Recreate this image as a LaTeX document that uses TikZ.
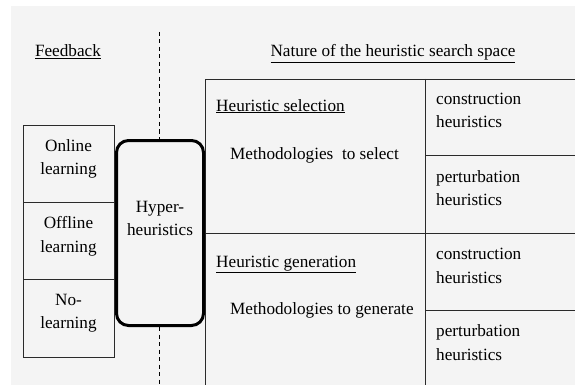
\documentclass[tikz,border=0pt]{standalone}
\usepackage{fontspec}
\setmainfont{Liberation Serif}
\definecolor{bgc}{HTML}{F4F4F4}
\definecolor{linec}{HTML}{2A2A2A}
\begin{document}
\begin{tikzpicture}[x=1pt,y=-1pt,
  txt/.style={font=\fontsize{17.2}{24}\selectfont, inner sep=0pt, anchor=base west},
  ctxt/.style={font=\fontsize{17.2}{24}\selectfont, inner sep=0pt, anchor=base},
  cell/.style={draw=linec, line width=0.9pt},
  hyperbox/.style={draw=black, line width=3pt, rounded corners=12pt, fill=bgc, minimum width=87pt, minimum height=185pt, inner sep=0pt},
  sep/.style={draw=black, line width=0.9pt, dash pattern=on 4pt off 3.5pt}]
\useasboundingbox (0,0) rectangle (575,385);
\fill[bgc] (11,6) rectangle (575,385);
% headings
\node[ctxt] (fb) at (68,57) {\underline{Feedback}};
\node[ctxt] (nat) at (393,57) {\underline{Nature of the heuristic search space}};
% feedback boxes
\draw[cell] (23,125) rectangle (114.5,202);
\draw[cell] (23,202) rectangle (114.5,279.5);
\draw[cell] (23,279.5) rectangle (114.5,357);
\node[ctxt] (on1) at (68.5,151) {Online};
\node[ctxt] (on2) at (68.5,174) {learning};
\node[ctxt] (off1) at (68.5,228) {Offline};
\node[ctxt] (off2) at (68.5,252) {learning};
\node[ctxt] (no1) at (68.5,305) {No-};
\node[ctxt] (no2) at (68.5,328) {learning};
% table
\draw[cell] (575,79) -- (205,79) -- (205,385);
\draw[cell] (425,79) -- (425,385);
\draw[cell] (205,233) -- (575,233);
\draw[cell] (425,155.5) -- (575,155.5);
\draw[cell] (425,310) -- (575,310);
\node[txt] (hs) at (216,111) {\underline{Heuristic selection}};
\node[txt] (ms) at (230,159) {Methodologies\ \ to select};
\node[txt] (c1a) at (436,105) {construction};
\node[txt] (c1b) at (436,128) {heuristics};
\node[txt] (p1a) at (436,182) {perturbation};
\node[txt] (p1b) at (436,205) {heuristics};
\node[txt] (hg) at (216,267) {\underline{Heuristic generation}};
\node[txt] (mg) at (230,314) {Methodologies to generate};
\node[txt] (c2a) at (436,259) {construction};
\node[txt] (c2b) at (436,283) {heuristics};
\node[txt] (p2a) at (436,336) {perturbation};
\node[txt] (p2b) at (436,360) {heuristics};
% hyper-heuristics
\node[hyperbox] (hyper) at (160,233) {};
\node[ctxt] (hy1) at (160,212) {Hyper-};
\node[ctxt] (hy2) at (160,235) {heuristics};
\coordinate (dtop) at (159,32);
\coordinate (dbot) at (159,385);
\draw[sep] (dtop) -- (dtop |- hyper.north);
\draw[sep] (dbot |- hyper.south) -- (dbot);
\end{tikzpicture}
\end{document}
